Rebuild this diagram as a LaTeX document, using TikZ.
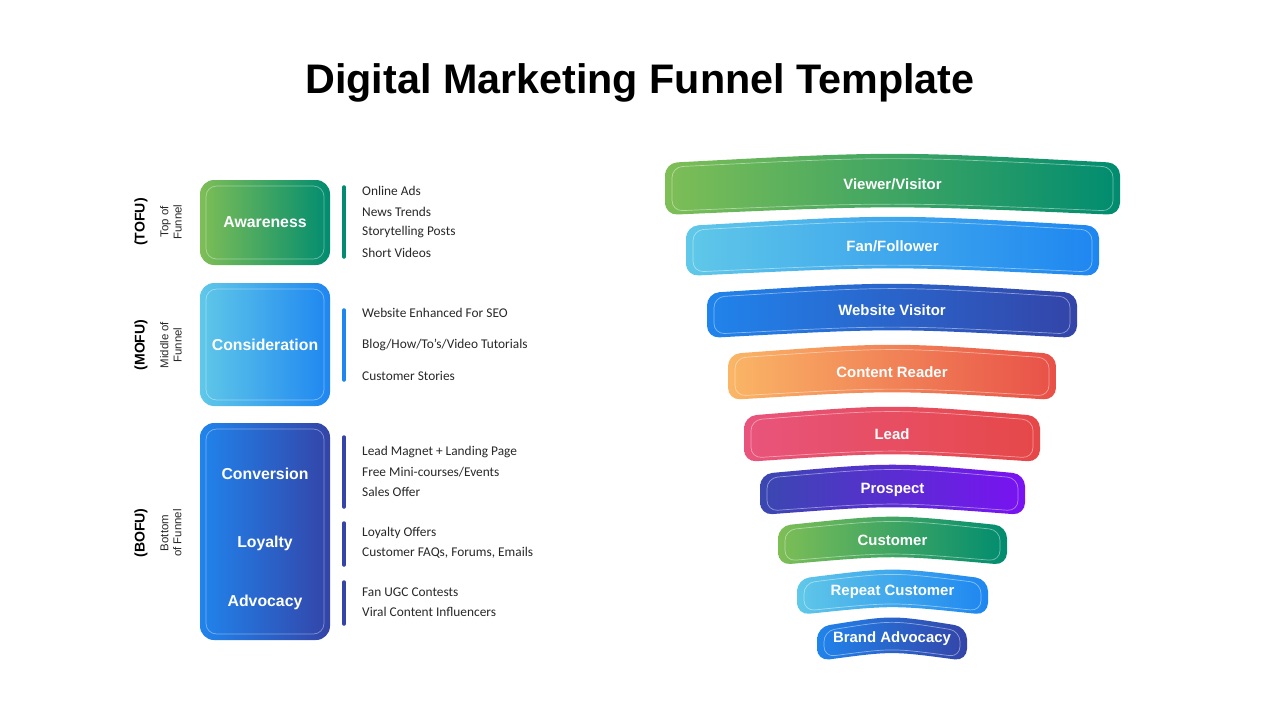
\documentclass[tikz,border=0pt]{standalone}
\usepackage{fontspec}
\setmainfont{Liberation Sans}
\newfontfamily\itemfont{Carlito}
\definecolor{g1}{RGB}{126,190,86}
\definecolor{g2}{RGB}{0,140,112}
\definecolor{b1}{RGB}{96,200,232}
\definecolor{b2}{RGB}{30,134,240}
\definecolor{d1}{RGB}{32,132,236}
\definecolor{d2}{RGB}{52,68,168}
\definecolor{o1}{RGB}{250,182,102}
\definecolor{o2}{RGB}{232,80,72}
\definecolor{p1}{RGB}{232,84,124}
\definecolor{p2}{RGB}{230,72,72}
\definecolor{v1}{RGB}{58,72,176}
\definecolor{v2}{RGB}{122,18,242}
\definecolor{txt}{RGB}{40,40,40}
\tikzset{
  lbl/.style={text=white,font=\bfseries\fontsize{8.5}{10}\selectfont},
  itm/.style={anchor=west,text=txt,font=\itemfont\fontsize{7.6}{9}\selectfont},
  side/.style={rotate=90,text=txt,align=center,font=\fontsize{6.5}{7.5}\selectfont},
  sideb/.style={rotate=90,text=black,font=\bfseries\fontsize{8}{9}\selectfont},
}
% funnel segment: x1, x2, y1, y2, left colour, right colour, name, text
\newcommand\fseg[8]{%
  \shade[left color=#5,right color=#6,rounded corners=7]
    (#1,#3+6) .. controls ({(#1+#2)/2},#3-6) .. (#2,#3+6) -- (#2,#4)
    .. controls ({(#1+#2)/2},#4-10) .. (#1,#4) -- cycle;
  \draw[white,opacity=.45,line width=.4pt,rounded corners=6]
    (#1+7,#3+10) .. controls ({(#1+#2)/2},#3-1) .. (#2-7,#3+10) -- (#2-7,#4-4)
    .. controls ({(#1+#2)/2},#4-13) .. (#1+7,#4-4) -- cycle;
  \node[lbl] (#7) at ({(#1+#2)/2},{(#3+#4)/2-2}) {#8};}
\begin{document}
\begin{tikzpicture}[x=0.02cm,y=-0.02cm]
      \useasboundingbox[fill=white] (0,0) rectangle (1280,720);

      \node[font=\bfseries\fontsize{23.5}{26}\selectfont] (title) at (640,83) {Digital Marketing Funnel Template};

      % left stage boxes
      \shade[left color=g1,right color=g2,rounded corners=8] (200,180) rectangle (330,265);
      \draw[white,opacity=.4,rounded corners=6] (206,186) rectangle (324,259);
      \node[lbl,font=\bfseries\fontsize{9}{10}\selectfont] (aware) at (265,222) {Awareness};
      \shade[left color=b1,right color=b2,rounded corners=8] (200,283) rectangle (330,406);
      \draw[white,opacity=.4,rounded corners=6] (206,289) rectangle (324,400);
      \node[lbl,font=\bfseries\fontsize{9}{10}\selectfont] (consid) at (265,345) {Consideration};
      \shade[left color=d1,right color=d2,rounded corners=8] (200,423) rectangle (330,640);
      \draw[white,opacity=.4,rounded corners=6] (206,429) rectangle (324,634);
      \node[lbl,font=\bfseries\fontsize{9}{10}\selectfont] (conv) at (265,474) {Conversion};
      \node[lbl,font=\bfseries\fontsize{9}{10}\selectfont] (loyal) at (265,543) {Loyalty};
      \node[lbl,font=\bfseries\fontsize{9}{10}\selectfont] (advoc) at (265,602) {Advocacy};

      % side labels
      \node[sideb] (tofu) at (141,222) {(TOFU)};
      \node[side] (tofut) at (171,222) {Top of\\Funnel};
      \node[sideb] (mofu) at (141,345) {(MOFU)};
      \node[side] (mofut) at (171,345) {Middle of\\Funnel};
      \node[sideb] (bofu) at (141,533) {(BOFU)};
      \node[side] (bofut) at (171,533) {Bottom\\of Funnel};

      % bars
      \draw[g2,line width=2pt,line cap=round] (344,187) -- (344,257);
      \draw[b2,line width=2pt,line cap=round] (344,310) -- (344,380);
      \draw[d2,line width=2pt,line cap=round] (344,437) -- (344,507);
      \draw[d2,line width=2pt,line cap=round] (344,523) -- (344,565);
      \draw[d2,line width=2pt,line cap=round] (344,582) -- (344,624);

      % items
      \node[itm] (i1) at (356,191) {Online Ads};
      \node[itm] (i2) at (356,212) {News Trends};
      \node[itm] (i3) at (356,232) {Storytelling Posts};
      \node[itm] (i4) at (356,253) {Short Videos};
      \node[itm] (i5) at (356,313) {Website Enhanced For SEO};
      \node[itm] (i6) at (356,345) {Blog/How/To’s/Video Tutorials};
      \node[itm] (i7) at (356,376) {Customer Stories};
      \node[itm] (i8) at (356,452) {Lead Magnet + Landing Page};
      \node[itm] (i9) at (356,472) {Free Mini-courses/Events};
      \node[itm] (i10) at (356,492) {Sales Offer};
      \node[itm] (i11) at (356,533) {Loyalty Offers};
      \node[itm] (i12) at (356,553) {Customer FAQs, Forums, Emails};
      \node[itm] (i13) at (356,592) {Fan UGC Contests};
      \node[itm] (i14) at (356,612) {Viral Content Influencers};

      % funnel
      \fseg{665}{1120}{157}{215}{g1}{g2}{viewer}{Viewer/Visitor}
      \fseg{686}{1099}{220}{276}{b1}{b2}{fan}{Fan/Follower}
      \fseg{707}{1077}{287}{338}{d1}{d2}{web}{Website Visitor}
      \fseg{728}{1056}{348}{400}{o1}{o2}{reader}{Content Reader}
      \fseg{744}{1040}{410}{462}{p1}{p2}{lead}{Lead}
      \fseg{760}{1025}{468}{515}{v1}{v2}{prospect}{Prospect}
      \fseg{778}{1007}{520}{565}{g1}{g2}{customer}{Customer}
      \fseg{797}{988}{573}{615}{b1}{b2}{repeat}{Repeat Customer}
      \fseg{817}{967}{621}{661}{d1}{d2}{brand}{Brand Advocacy}
\end{tikzpicture}
\end{document}
